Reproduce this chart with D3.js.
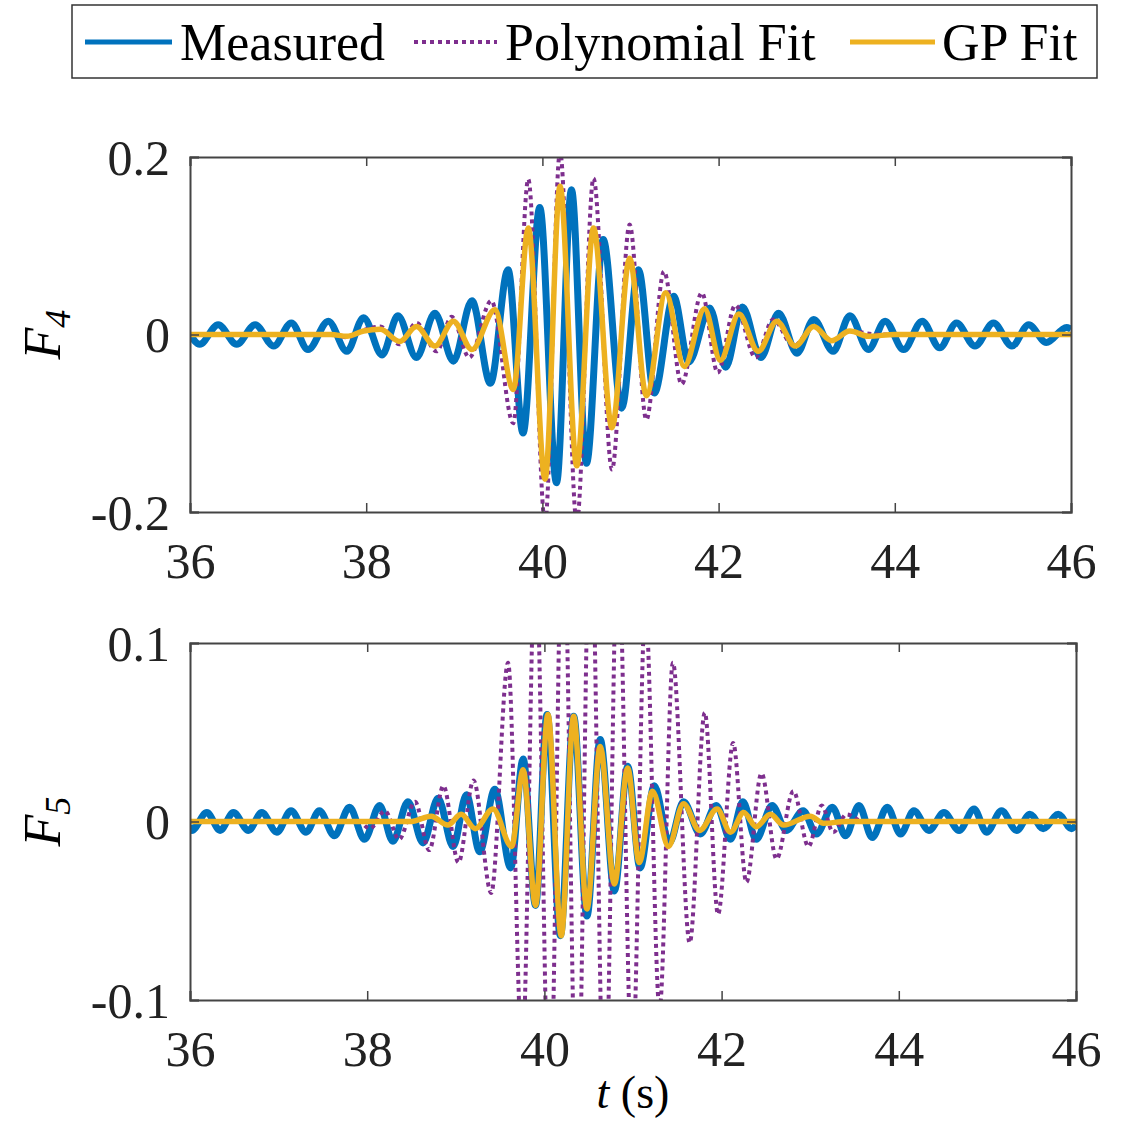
<!DOCTYPE html>
<html>
<head>
<meta charset="utf-8">
<script src="https://cdn.jsdelivr.net/npm/d3@7/dist/d3.min.js"></script>
<style>
  html, body { margin: 0; padding: 0; background: #fff; }
  svg { display: block; }
</style>
</head>
<body>
<script>
// ---- data: [time (s), value] at the turning points of each trace ----
const timeTicks = [36, 38, 40, 42, 44, 46];
const timeTickLabels = ["36", "38", "40", "42", "44", "46"];
const f4Ticks = [-0.2, 0, 0.2];
const f4TickLabels = ["-0.2", "0", "0.2"];
const f5Ticks = [-0.1, 0, 0.1];
const f5TickLabels = ["-0.1", "0", "0.1"];

const seriesNames = ["Measured", "Polynomial Fit", "GP Fit"];

const f4Measured = [
  [36.00, 0.000], [36.11, -0.011], [36.32, 0.011], [36.53, -0.011], [36.74, 0.011],
  [36.95, -0.013], [37.15, 0.013], [37.34, -0.017], [37.57, 0.015], [37.78, -0.019],
  [37.97, 0.019], [38.18, -0.023], [38.36, 0.021], [38.57, -0.026], [38.78, 0.024],
  [38.99, -0.030], [39.20, 0.038], [39.41, -0.055], [39.61, 0.073], [39.78, -0.111],
  [39.97, 0.143], [40.16, -0.167], [40.33, 0.163], [40.50, -0.145], [40.69, 0.107],
  [40.90, -0.083], [41.09, 0.073], [41.27, -0.066], [41.49, 0.043], [41.66, -0.031],
  [41.90, 0.030], [42.08, -0.037], [42.27, 0.031], [42.48, -0.026], [42.68, 0.024],
  [42.89, -0.021], [43.08, 0.017], [43.30, -0.019], [43.49, 0.021], [43.70, -0.017],
  [43.89, 0.015], [44.10, -0.017], [44.31, 0.015], [44.51, -0.015], [44.70, 0.013],
  [44.91, -0.013], [45.12, 0.013], [45.33, -0.013], [45.52, 0.011], [45.72, -0.009],
  [45.95, 0.008], [46.00, 0.006]
];

const f4Poly = [
  [36.00, 0.000], [37.60, 0.000], [37.78, -0.003], [37.97, 0.005], [38.16, 0.009],
  [38.38, -0.011], [38.57, 0.013], [38.80, -0.019], [38.97, 0.020], [39.17, -0.026],
  [39.42, 0.038], [39.67, -0.100], [39.84, 0.175], [40.03, -0.212], [40.20, 0.206],
  [40.39, -0.212], [40.58, 0.176], [40.79, -0.152], [40.99, 0.124], [41.18, -0.096],
  [41.38, 0.071], [41.58, -0.056], [41.81, 0.047], [41.99, -0.043], [42.19, 0.033],
  [42.42, -0.026], [42.62, 0.017], [42.85, -0.013], [43.08, 0.009], [43.28, -0.007],
  [43.49, 0.004], [43.80, 0.000], [46.00, 0.000]
];

const f4GP = [
  [36.00, 0.000], [37.60, 0.000], [37.78, -0.002], [37.97, 0.004], [38.16, 0.006],
  [38.38, -0.008], [38.57, 0.009], [38.78, -0.013], [38.99, 0.015], [39.20, -0.017],
  [39.46, 0.028], [39.67, -0.062], [39.84, 0.120], [40.03, -0.163], [40.20, 0.167],
  [40.39, -0.148], [40.58, 0.120], [40.79, -0.105], [40.99, 0.086], [41.18, -0.069],
  [41.40, 0.047], [41.61, -0.036], [41.84, 0.029], [42.02, -0.029], [42.23, 0.023],
  [42.45, -0.019], [42.66, 0.015], [42.87, -0.013], [43.08, 0.009], [43.28, -0.007],
  [43.49, 0.004], [43.70, -0.002], [44.00, 0.000], [46.00, 0.000]
];

const f5Measured = [
  [36.00, -0.002], [36.02, -0.005], [36.19, 0.005], [36.34, -0.005], [36.49, 0.005],
  [36.66, -0.005], [36.81, 0.005], [36.98, -0.006], [37.14, 0.006], [37.31, -0.006],
  [37.46, 0.006], [37.63, -0.008], [37.80, 0.008], [37.97, -0.010], [38.14, 0.009],
  [38.29, -0.011], [38.46, 0.011], [38.63, -0.012], [38.80, 0.013], [38.97, -0.014],
  [39.12, 0.015], [39.27, -0.017], [39.44, 0.018], [39.62, -0.026], [39.76, 0.035],
  [39.90, -0.047], [40.03, 0.060], [40.18, -0.064], [40.33, 0.059], [40.48, -0.053],
  [40.63, 0.046], [40.79, -0.039], [40.94, 0.031], [41.08, -0.026], [41.24, 0.020],
  [41.41, -0.012], [41.57, 0.011], [41.76, -0.007], [41.94, 0.009], [42.10, -0.010],
  [42.24, 0.011], [42.39, -0.010], [42.57, 0.009], [42.73, -0.005], [42.92, 0.006],
  [43.07, -0.007], [43.25, 0.008], [43.40, -0.008], [43.55, 0.009], [43.70, -0.009],
  [43.87, 0.008], [44.02, -0.007], [44.17, 0.006], [44.34, -0.005], [44.51, 0.005],
  [44.68, -0.005], [44.85, 0.007], [44.99, -0.006], [45.16, 0.006], [45.33, -0.005],
  [45.48, 0.004], [45.63, -0.004], [45.80, 0.004], [45.95, -0.004], [46.00, -0.002]
];

const f5Poly = [
  [36.00, 0.000], [37.90, 0.000], [38.03, -0.004], [38.20, 0.006], [38.36, -0.010],
  [38.54, 0.011], [38.70, -0.016], [38.86, 0.020], [39.03, -0.023], [39.20, 0.023],
  [39.40, -0.040], [39.59, 0.089], [39.75, -0.130], [39.90, 0.150], [40.06, -0.170],
  [40.21, 0.180], [40.37, -0.180], [40.52, 0.180], [40.68, -0.170], [40.83, 0.160],
  [40.99, -0.140], [41.14, 0.120], [41.30, -0.105], [41.45, 0.089], [41.64, -0.068],
  [41.81, 0.061], [41.96, -0.052], [42.13, 0.044], [42.28, -0.034], [42.45, 0.027],
  [42.62, -0.021], [42.81, 0.017], [42.98, -0.014], [43.13, 0.009], [43.26, -0.006],
  [43.41, 0.004], [43.60, 0.000], [46.00, 0.000]
];

const f5GP = [
  [36.00, 0.000], [38.50, 0.000], [38.72, 0.003], [38.91, -0.002], [39.06, 0.004],
  [39.22, -0.004], [39.42, 0.007], [39.63, -0.014], [39.76, 0.029], [39.90, -0.047],
  [40.04, 0.060], [40.19, -0.064], [40.33, 0.059], [40.48, -0.049], [40.63, 0.042],
  [40.79, -0.035], [40.94, 0.030], [41.07, -0.023], [41.22, 0.017], [41.40, -0.014],
  [41.57, 0.010], [41.75, -0.005], [41.95, 0.007], [42.10, -0.006], [42.25, 0.005],
  [42.39, -0.003], [42.55, 0.004], [42.70, -0.002], [43.00, 0.003], [43.15, -0.001],
  [43.40, 0.000], [46.00, 0.000]
];

// ---- styling ----
const colors = { measured: "#0072BD", poly: "#7E2F8E", gp: "#EDB120" };
const serif = "'Liberation Serif', 'Times New Roman', serif";
const polyDash = "4,4";

const W = 1124, H = 1125;
const svg = d3.select("body").append("svg").attr("width", W).attr("height", H);

// ---- legend ----
const legend = svg.append("g");
legend.append("rect")
  .attr("x", 72).attr("y", 5).attr("width", 1025).attr("height", 73)
  .attr("fill", "#fff").attr("stroke", "#333").attr("stroke-width", 1.5);

const legendItems = [
  { name: seriesNames[0], color: colors.measured, dash: null, width: 5, x0: 85, x1: 172, tx: 180 },
  { name: seriesNames[1], color: colors.poly, dash: polyDash, width: 4, x0: 414, x1: 497, tx: 505 },
  { name: seriesNames[2], color: colors.gp, dash: null, width: 5, x0: 850, x1: 935, tx: 942 }
];
legendItems.forEach(d => {
  legend.append("line")
    .attr("x1", d.x0).attr("x2", d.x1).attr("y1", 42).attr("y2", 42)
    .attr("stroke", d.color).attr("stroke-width", d.width)
    .attr("stroke-dasharray", d.dash);
  legend.append("text")
    .attr("x", d.tx).attr("y", 60)
    .attr("font-family", serif).attr("font-size", 52)
    .attr("fill", "#000")
    .text(d.name);
});

// ---- one panel ----
function drawPanel(opts) {
  const { box, yDomain, yTicks, yTickLabels, measured, poly, gp, sub, id } = opts;
  const x = d3.scaleLinear().domain([36, 46]).range([box.left, box.right]);
  const y = d3.scaleLinear().domain(yDomain).range([box.bottom, box.top]);
  const g = svg.append("g");

  g.append("defs").append("clipPath").attr("id", id)
    .append("rect")
    .attr("x", box.left).attr("y", box.top)
    .attr("width", box.right - box.left).attr("height", box.bottom - box.top);

  const line = d3.line()
    .x(d => x(d[0])).y(d => y(d[1]))
    .curve(d3.curveMonotoneX);

  const plot = g.append("g").attr("clip-path", `url(#${id})`);
  plot.append("path").datum(measured)
    .attr("d", line).attr("fill", "none")
    .attr("stroke", colors.measured).attr("stroke-width", 7)
    .attr("stroke-linejoin", "round");
  plot.append("path").datum(poly)
    .attr("d", line).attr("fill", "none")
    .attr("stroke", colors.poly).attr("stroke-width", 4)
    .attr("stroke-dasharray", polyDash);
  plot.append("path").datum(gp)
    .attr("d", line).attr("fill", "none")
    .attr("stroke", colors.gp).attr("stroke-width", 5.5)
    .attr("stroke-linejoin", "round");

  // box and inward ticks on all four sides
  const tickLen = 9;
  const axisColor = "#444";
  const bottomAxis = d3.axisBottom(x).tickValues(timeTicks).tickSize(-tickLen)
    .tickFormat((d, i) => timeTickLabels[i]);
  const topAxis = d3.axisTop(x).tickValues(timeTicks).tickSize(-tickLen).tickFormat("");
  const leftAxis = d3.axisLeft(y).tickValues(yTicks).tickSize(-tickLen)
    .tickFormat((d, i) => yTickLabels[i]);
  const rightAxis = d3.axisRight(y).tickValues(yTicks).tickSize(-tickLen).tickFormat("");

  const axes = [
    g.append("g").attr("transform", `translate(0,${box.bottom})`).call(bottomAxis),
    g.append("g").attr("transform", `translate(0,${box.top})`).call(topAxis),
    g.append("g").attr("transform", `translate(${box.left},0)`).call(leftAxis),
    g.append("g").attr("transform", `translate(${box.right},0)`).call(rightAxis)
  ];
  axes.forEach(a => {
    a.select(".domain").attr("stroke", axisColor).attr("stroke-width", 2);
    a.selectAll(".tick line").attr("stroke", axisColor).attr("stroke-width", 1.5);
    a.selectAll("text").attr("font-family", serif).attr("font-size", 50).attr("fill", "#222");
  });
  axes[0].selectAll(".tick text").attr("dy", "0").attr("y", 66);
  axes[2].selectAll(".tick text").attr("x", -20).attr("dy", "0.34em");

  // y label
  const yl = g.append("text")
    .attr("transform", `translate(60,${(box.top + box.bottom) / 2}) rotate(-90)`)
    .attr("text-anchor", "middle")
    .attr("font-family", serif).attr("font-size", 52).attr("font-style", "italic")
    .attr("fill", "#000");
  yl.append("tspan").text("F");
  yl.append("tspan").attr("font-size", 36).attr("dy", 10).text(sub);

  return x;
}

drawPanel({
  id: "clipF4",
  box: { left: 190, right: 1071, top: 157, bottom: 512 },
  yDomain: [-0.2, 0.2], yTicks: f4Ticks, yTickLabels: f4TickLabels,
  measured: f4Measured, poly: f4Poly, gp: f4GP, sub: "4"
});

const xBottom = drawPanel({
  id: "clipF5",
  box: { left: 190, right: 1076, top: 643, bottom: 1000 },
  yDomain: [-0.1, 0.1], yTicks: f5Ticks, yTickLabels: f5TickLabels,
  measured: f5Measured, poly: f5Poly, gp: f5GP, sub: "5"
});

// x label
const xl = svg.append("text")
  .attr("x", xBottom(41)).attr("y", 1108)
  .attr("text-anchor", "middle")
  .attr("font-family", serif).attr("font-size", 46).attr("fill", "#000");
xl.append("tspan").attr("font-style", "italic").text("t");
xl.append("tspan").text(" (s)");
</script>
</body>
</html>
